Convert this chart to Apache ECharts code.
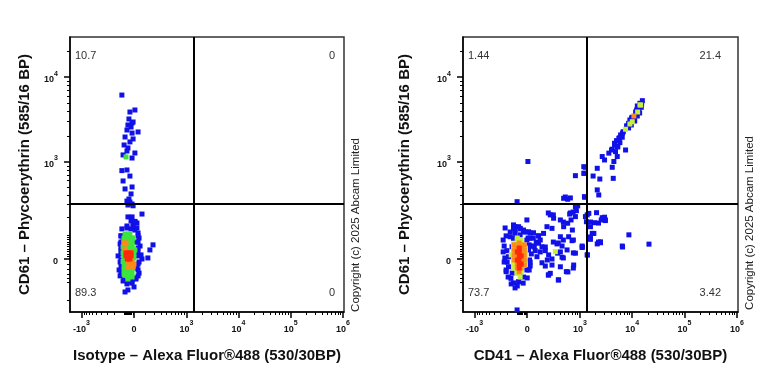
<!DOCTYPE html>
<html><head><meta charset="utf-8">
<script src="https://cdn.jsdelivr.net/npm/echarts@6/dist/echarts.min.js"></script>
<style>html,body{margin:0;padding:0;background:#fff}#c{width:768px;height:384px}</style>
</head><body><div id="c"></div>
<script>
// ---------- data (raw fluorescence intensities) ----------
const xMajorTicks = [-1000, 0, 1000, 10000, 100000, 1000000];
const xTickLabels = ['-10^3', '0', '10^3', '10^4', '10^5', '10^6'];
const yMajorTicks = [0, 1000, 10000];
const yTickLabels = ['0', '10^3', '10^4'];

const gateX = 1370, gateY = 312;
const isoQuadrants = [10.7, 0, 89.3, 0];     // UL, UR, LL, LR
const cd41Quadrants = [1.44, 21.4, 73.7, 3.42];
const xTitles = ['Isotype \u2013 Alexa Fluor\u00AE488 (530/30BP)', 'CD41 \u2013 Alexa Fluor\u00AE488 (530/30BP)'];
const yTitle = 'CD61 \u2013 Phycoerythrin (585/16 BP)';
const copyright = 'Copyright (c) 2025 Abcam Limited';

// Isotype panel
const isoBlueX = [-112,-36,8,-45,-17,-8,-54,-26,36,-63,-17,-81,-8,-36,-90,-54,-63,8,-100,-17,
 -112,-63,-36,-100,-17,-81,-26,-63,-36,-17,-54,-8,-45,
 -54,-17,72,8,-8,26,
 188,152,130,72,-81,
 -112,-63,-26,8,36,-121,45,17,54,36,63,45,26,45,17,-17,-63,-100,-130,-141,-130,-152,-121,-130,-100,0,-54,
 -26,8,-63,-8,26,-121,-121,-121,-121,-121,-121,-121,36,36,36,36,36,36,36,-90,-54,-17,17];
const isoBlueY = [6170,3897,4115,3227,2900,2974,2741,2595,2268,2392,2200,1978,1876,1730,1592,1469,1352,1280,1214,1116,
 790,804,680,593,501,474,411,334,325,306,297,290,355,
 204,204,224,175,159,165,
 57,36,4,0,-148,
 132,137,132,126,111,97,87,69,52,28,16,-12,-36,-57,-78,-102,-106,-92,-69,-44,-12,12,36,61,83,-121,-137,
 178,171,148,148,137,97,69,44,20,-4,-28,-52,97,69,44,12,-20,-44,-69,-87,-97,-92,-83];
const isoGreenX = [-81,-36,-90,-45,-8,-63,-17,-100,8,-90,0,-81,-8,-63,-26,-81,-17,-54,-100,0,-100,-72,
 -54,-90,-54,-17,-90,-54,-17,-90,-54,-17,-90,-54,-17,-90,-54,-17,
 -90,-54,-17,-90,-54,-17,-90,-54,-17,-90,-54,-17,-90,-54,-17,-54];
const isoGreenY = [106,106,78,83,87,61,57,48,36,4,4,-24,-28,-44,-48,-65,-74,-83,24,22,-10,1150,
 106,87,87,87,69,69,69,52,52,52,36,36,36,20,20,20,
 4,4,4,-12,-12,-12,-28,-28,-28,-44,-44,-44,-61,-61,-61,-74];
const isoOrangeX = [-90,-72,-54,-17,0,-36,-8,-54,-81,-26];
const isoOrangeY = [65,65,-8,-8,-20,-28,-32,-32,40,28];
const isoRedX = [-72,-45,-26,-72,-45,-26,-60,-36];
const isoRedY = [24,24,24,12,12,12,0,0];

// CD41 panel
const cd41DiagX = [15700,14100,12580,15000,13490,11670,12580,10090,9080,11170,8570,8090,9660,6790,6030,5585,6490,5050,5850,4624,5350,4180,7510,4830,3600,5210,2690,2980,4490,4180,2160,1280,1225,818,1800,2420,4370,2160,2310,1242,
 15200,12190,9780,7850,6577,5760,4624,4050,5270,8570,11170,13930];
const cd41DiagY = [5300,4940,4590,4430,4115,3897,3497,3377,3137,3082,2868,2668,2741,2283,2092,1912,1965,1793,1697,1669,1520,1420,1389,1330,1275,1162,1162,1058,1015,866,842,866,734,687,680,626,638,461,399,373,
 4850,4115,3315,2668,2205,1930,1592,1389,1512,2528,3060,3795];
const cd41MidX = [6,-92,475,573,907,855,737,630,818,671,573,475,405,440,343,239,287,196,263,156,104,56,26,104,139,176,217,263,354,
 440,558,600,702,818,756,539,372,217,1383,1339,1601,1909,2094,2576,2980,1730,1601,2160,2495,1383,1105,8690,6490,21000,139,176,72,88,56,12,-3,-33,-63,-112,239,263,405,
 1190,1190,1225,1489,1280,2690,3080,1860,2490,1105,
 213,283,405,468,650,818,514,650,712,745,1601,2286,3080,1601,2286,6577,26,121,176,121,200,283,405,468,745,1121,1399,366,468,213,366,580,745];
const cd41MidY = [1015,328,362,352,289,249,239,224,206,184,164,144,93,52,61,218,195,144,135,109,97,112,86,64,49,33,16,0,23,
 7,36,93,75,23,-24,-51,-87,-65,218,173,144,167,234,184,202,109,81,61,66,16,52,102,52,60,-15,-28,33,9,52,117,184,126,135,144,-58,-24,-31,
 880,734,380,229,206,199,180,109,70,46,
 232,218,184,171,232,280,376,366,126,78,171,165,184,92,69,48,111,78,48,28,-4,69,28,4,24,48,16,65,78,-65,-87,-52,-36];
const cd41ClusterX = [-204,-213,-164,-128,-78,-33,-3,12,20,-3,-33,-78,-128,-156,-184,-184,-144,-128,-112,-63,-92,-239,-230,-200,-142,17,26,-112,
 -253,-253,-239,-213,-188,-153,-90,-36,0,17,26,36,26,8,-17,-63,-112,-164,-213,-226,-128,54,81,63,101];
const cd41ClusterY = [33,-51,93,135,144,117,78,36,-4,-44,-74,-95,-101,-80,-31,9,49,86,109,102,-271,52,4,-12,-57,57,-28,-126,
 78,28,-12,-44,-74,-106,-116,-102,-78,-44,-12,20,52,87,116,132,126,116,97,137,154,87,69,48,97];
const cd41YellowX = [-69,-112,-38,-128,-33,-92,-63,-17,-153,-90,14100,10090,9080,7510,315,12760,14550,
 -128,-128,-128,-128,-128,-128,-128,
 -90,-90,-90,-90,-90,-90,-90,-90,-90,
 -54,-54,-54,-54,-54,-54,-54,-54,-54,
 -17,-17,-17,-17,-17];
const cd41YellowY = [64,29,23,-9,-24,-58,-74,40,16,87,4718,2996,2814,2442,29,3897,4718,
 61,44,28,12,-4,-20,-36,
 78,61,44,28,12,-4,-20,-36,-52,
 78,61,44,28,12,-4,-20,-36,-52,
 44,28,12,-4,-20];
const cd41OrangeX = [-121,-121,-121,-121,-26,-26,-26,-26,-26,-72,-72,-90,-54,-90,-54,-54,-90,10820];
const cd41OrangeY = [57,36,16,-4,57,36,16,-4,-24,65,-52,44,-36,-36,44,28,-20,3497];
const cd41RedX = [-72,-72,-72,-72,-72,-72,-90,-54,-90,-54];
const cd41RedY = [44,28,12,-4,-20,-36,28,12,-4,-20];

// ---------- biexponential-like display transform ----------
const tx = v => Math.asinh(v / 200) / Math.LN10;
const ty = v => Math.asinh(v / 145.4) / Math.LN10;
const X_MIN = -1.225, X_MAX = 4.02, Y_MIN = -0.624, Y_MAX = 2.612;

const xMinor = [], yMinor = [];
for (let k = 2; k <= 9; k++) xMinor.push(-k * 100);
for (let k = 1; k <= 9; k++) xMinor.push(-k * 10);
[100, 1000, 10000, 100000].forEach(d => { for (let k = (d === 100 ? 1 : 2); k <= 9; k++) xMinor.push(k * d); });
for (let k = 1; k <= 9; k++) yMinor.push(k * 10);
[100, 1000].forEach(d => { for (let k = (d === 100 ? 1 : 2); k <= 9; k++) yMinor.push(k * d); });
yMinor.push(20000, 30000, -20, -40, -60, -80, -100, -200);

const rich = {
  b: {fontSize: 9, fontWeight: 'bold', fontFamily: 'Liberation Sans', color: '#111', lineHeight: 14, verticalAlign: 'bottom'},
  s: {fontSize: 7, fontWeight: 'bold', fontFamily: 'Liberation Sans', color: '#111', lineHeight: 14, verticalAlign: 'top'}
};
function richLabel(lbl) {
  if (lbl.indexOf('^') >= 0) { const p = lbl.split('^'); return '{b|' + p[0] + '}{s|' + p[1] + '}'; }
  return '{b|' + lbl + '}';
}
function makeFmt(vals, labels, f) {
  const t = vals.map(f);
  return function (value) {
    let best = 0, bd = Infinity;
    t.forEach((tv, i) => { const d = Math.abs(tv - value); if (d < bd) { bd = d; best = i; } });
    return richLabel(labels[best]);
  };
}
const fmtX = makeFmt(xMajorTicks, xTickLabels, tx);
const fmtY = makeFmt(yMajorTicks, yTickLabels, ty);
const titleStyle = {fontFamily: 'Liberation Sans', fontWeight: 'bold', fontSize: 15, color: '#111'};

function makeX(gi, name) {
  return [{
    type: 'value', gridIndex: gi, min: X_MIN, max: X_MAX, position: 'bottom',
    name: name, nameLocation: 'middle', nameGap: 36, nameTextStyle: titleStyle,
    axisLine: {show: true, onZero: false, lineStyle: {color: '#000', width: 1.5}},
    axisTick: {show: true, customValues: xMajorTicks.map(tx), length: 6, lineStyle: {color: '#000', width: 1.5}},
    axisLabel: {show: true, customValues: xMajorTicks.map(tx), margin: 8, formatter: fmtX, rich: rich},
    splitLine: {show: false}
  }, {
    type: 'value', gridIndex: gi, min: X_MIN, max: X_MAX, position: 'bottom', offset: 0,
    axisLine: {show: false, onZero: false},
    axisTick: {show: true, customValues: xMinor.map(tx), length: 3, lineStyle: {color: '#000', width: 1}},
    axisLabel: {show: false}, splitLine: {show: false}
  }];
}
function makeY(gi, gap) {
  return [{
    type: 'value', gridIndex: gi, min: Y_MIN, max: Y_MAX, position: 'left',
    name: yTitle, nameLocation: 'middle', nameGap: gap, nameTextStyle: titleStyle,
    axisLine: {show: true, onZero: false, lineStyle: {color: '#000', width: 1.5}},
    axisTick: {show: true, customValues: yMajorTicks.map(ty), length: 6, lineStyle: {color: '#000', width: 1.5}},
    axisLabel: {show: true, customValues: yMajorTicks.map(ty), margin: 12, formatter: fmtY, rich: rich},
    splitLine: {show: false}
  }, {
    type: 'value', gridIndex: gi, min: Y_MIN, max: Y_MAX, position: 'left', offset: 0,
    axisLine: {show: false, onZero: false},
    axisTick: {show: true, customValues: yMinor.map(ty), length: 3, lineStyle: {color: '#000', width: 1}},
    axisLabel: {show: false}, splitLine: {show: false}
  }];
}

const pts = (X, Y) => X.map((x, i) => [tx(x), ty(Y[i])]);
function sc(ai, X, Y, color, extra) {
  return Object.assign({
    type: 'scatter', xAxisIndex: ai, yAxisIndex: ai, data: pts(X, Y),
    symbol: 'rect', symbolSize: 5, itemStyle: {color: color, opacity: 1}, silent: true
  }, extra || {});
}
const gateLines = {
  markLine: {
    silent: true, symbol: 'none', label: {show: false},
    lineStyle: {color: '#000', width: 2, type: 'solid'},
    data: [{xAxis: tx(gateX)}, {yAxis: ty(gateY)}]
  }
};

const BLUE = '#1010e8', GREEN = '#3ee43e', YGREEN = '#c4f03c', ORANGE = '#ff8a1a', RED = '#ff2a0a';

function quadText(q, lx, rx, ty1, ty2) {
  const f = {fontSize: 11, fontFamily: 'Liberation Sans', fill: '#333'};
  const s = v => String(v);
  return [
    {type: 'text', x: lx, y: ty1, style: Object.assign({text: s(q[0]), align: 'left', verticalAlign: 'middle'}, f)},
    {type: 'text', x: rx, y: ty1, style: Object.assign({text: s(q[1]), align: 'right', verticalAlign: 'middle'}, f)},
    {type: 'text', x: lx, y: ty2, style: Object.assign({text: s(q[2]), align: 'left', verticalAlign: 'middle'}, f)},
    {type: 'text', x: rx, y: ty2, style: Object.assign({text: s(q[3]), align: 'right', verticalAlign: 'middle'}, f)}
  ];
}

const chart = echarts.init(document.getElementById('c'), null, {renderer: 'canvas'});
chart.setOption({
  animation: false,
  backgroundColor: '#fff',
  grid: [
    {left: 70, top: 37, width: 274, height: 275, show: true, borderColor: '#333', borderWidth: 1.5, backgroundColor: 'transparent'},
    {left: 463, top: 37, width: 275, height: 275, show: true, borderColor: '#333', borderWidth: 1.5, backgroundColor: 'transparent'}
  ],
  xAxis: makeX(0, xTitles[0]).concat(makeX(1, xTitles[1])),
  yAxis: makeY(0, 38).concat(makeY(1, 51)),
  series: [
    sc(0, isoBlueX, isoBlueY, BLUE, gateLines),
    sc(0, isoGreenX, isoGreenY, GREEN),
    sc(0, isoOrangeX, isoOrangeY, ORANGE),
    sc(0, isoRedX, isoRedY, RED),
    sc(2, cd41DiagX.concat(cd41MidX, cd41ClusterX), cd41DiagY.concat(cd41MidY, cd41ClusterY), BLUE, gateLines),
    sc(2, cd41YellowX, cd41YellowY, YGREEN),
    sc(2, cd41OrangeX, cd41OrangeY, ORANGE),
    sc(2, cd41RedX, cd41RedY, RED)
  ],
  graphic: quadText(isoQuadrants, 75, 335, 56, 293)
    .concat(quadText(cd41Quadrants, 468, 721, 56, 293))
    .concat([
      {type: 'text', x: 356, y: 225, rotation: Math.PI / 2,
       style: {text: copyright, align: 'center', verticalAlign: 'middle', fontSize: 11.5, fontFamily: 'Liberation Sans', fill: '#222'}},
      {type: 'text', x: 750, y: 223, rotation: Math.PI / 2,
       style: {text: copyright, align: 'center', verticalAlign: 'middle', fontSize: 11.5, fontFamily: 'Liberation Sans', fill: '#222'}}
    ])
});
</script></body></html>
